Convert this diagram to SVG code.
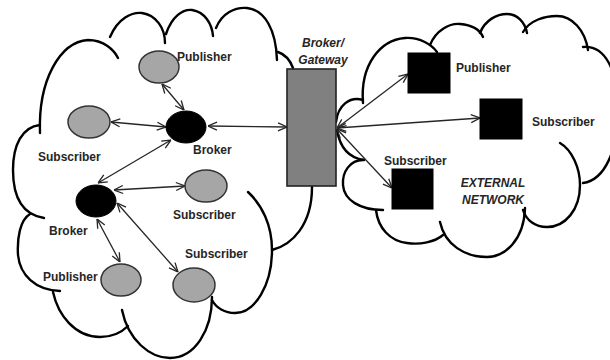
<svg xmlns="http://www.w3.org/2000/svg" width="610" height="360" viewBox="0 0 610 360">
  <style>
    .cloud { fill: none; stroke: #000; stroke-width: 2.4; stroke-linecap: round; }
    .gray { fill: #a6a6a6; stroke: #333; stroke-width: 1.5; }
    .black { fill: #000; stroke: #000; stroke-width: 1; }
    .gate { fill: #808080; stroke: #222; stroke-width: 1.6; }
    .lbl { font-family: "Liberation Sans", Arial, sans-serif; font-weight: bold; font-size: 12px; fill: #262626; }
    .it { font-style: italic; }
    .link { fill: none; stroke: #262626; stroke-width: 1.3; marker-start: url(#head); marker-end: url(#head); }
  </style>
  <defs>
    <marker id="head" viewBox="0 0 10 10" refX="10" refY="5" markerWidth="10" markerHeight="10" markerUnits="userSpaceOnUse" orient="auto-start-reverse">
      <path d="M1,1 L10,5 L1,9" fill="none" stroke="#262626" stroke-width="1.3"/>
    </marker>
  </defs>

  <rect width="610" height="360" fill="#fff"/>

  <!-- local network cloud -->
  <g id="local-cloud" class="cloud">
    <path d="M40,133 C38,80 60,42 88,40 C104,40 114,50 118,58"/>
    <path d="M110,37 C118,18 132,12 142,13 C156,15 165,28 165,43"/>
    <path d="M166,34 C172,16 183,9 192,10 C205,12 212,24 213,36"/>
    <path d="M216,28 C222,13 235,7 247,8 C265,10 276,30 277,60"/>
    <path d="M278,52 C284,54 290,60 293,68"/>
    <path d="M40,125 C22,127 13,145 13,170 C13,200 25,215 44,218"/>
    <path d="M30,214 C20,220 17,238 18,255 C20,275 35,290 60,291"/>
    <path d="M53,292 C58,315 75,337 100,337 C112,337 122,332 128,326"/>
    <path d="M122,310 C128,340 150,358 170,358 C195,358 212,330 212,297"/>
    <path d="M248,192 C262,205 272,225 272,250 C272,285 255,313 235,313 C225,313 216,308 212,300"/>
    <path d="M272,250 C292,245 312,225 312,187"/>
  </g>

  <!-- external network cloud -->
  <g id="external-cloud" class="cloud">
    <path d="M336,122 C338,105 350,96 363,100"/>
    <path d="M363,103 C360,65 380,40 405,38 C420,37 432,45 437,52"/>
    <path d="M430,45 C436,30 450,23 460,24 C472,25 480,30 483,37"/>
    <path d="M480,33 C485,20 497,14 507,14 C517,14 525,22 527,33"/>
    <path d="M523,32 C530,20 545,16 557,16 C572,16 585,30 588,50"/>
    <path d="M583,47 C605,45 618,70 618,110 C618,150 605,180 583,183"/>
    <path d="M560,143 C572,150 580,168 580,185 C580,210 565,227 547,227 C535,227 526,220 523,210"/>
    <path d="M525,208 C524,240 505,257 487,257 C465,257 445,245 440,222"/>
    <path d="M443,235 C435,242 420,245 407,243 C390,241 378,228 376,210"/>
    <path d="M363,160 C350,160 342,172 343,185 C344,200 360,210 383,210"/>
    <path d="M337,130 C340,148 350,158 364,160"/>
  </g>

  <!-- connectors -->
  <g id="connectors">
    <line class="link" x1="162" y1="84" x2="184" y2="110"/>
    <line class="link" x1="111" y1="122" x2="166" y2="127"/>
    <line class="link" x1="208" y1="126" x2="287" y2="127"/>
    <line class="link" x1="171" y1="140" x2="98" y2="183"/>
    <line class="link" x1="114" y1="190" x2="185" y2="186"/>
    <line class="link" x1="97" y1="219" x2="120" y2="262"/>
    <line class="link" x1="117" y1="203" x2="178" y2="272"/>
    <line class="link" x1="337" y1="128" x2="408" y2="74"/>
    <line class="link" x1="337" y1="128" x2="480" y2="118"/>
    <line class="link" x1="337" y1="129" x2="392" y2="188"/>
  </g>

  <!-- gateway -->
  <g id="gateway">
    <rect class="gate" x="287" y="69" width="49" height="117"/>
    <text class="lbl it" x="323" y="47" text-anchor="middle">Broker/</text>
    <text class="lbl it" x="323" y="64" text-anchor="middle">Gateway</text>
  </g>

  <!-- local network nodes -->
  <g id="publisher-top">
    <ellipse class="gray" cx="159" cy="67" rx="20" ry="16"/>
    <text class="lbl" x="177" y="61">Publisher</text>
  </g>
  <g id="subscriber-left">
    <ellipse class="gray" cx="89" cy="122" rx="21" ry="16"/>
    <text class="lbl" x="38" y="161">Subscriber</text>
  </g>
  <g id="broker-top">
    <ellipse class="black" cx="186" cy="127" rx="20" ry="16"/>
    <text class="lbl" x="193" y="154">Broker</text>
  </g>
  <g id="broker-bottom">
    <ellipse class="black" cx="96" cy="201" rx="20" ry="16"/>
    <text class="lbl" x="49" y="235">Broker</text>
  </g>
  <g id="subscriber-mid">
    <ellipse class="gray" cx="206" cy="186" rx="21" ry="16"/>
    <text class="lbl" x="173" y="219">Subscriber</text>
  </g>
  <g id="publisher-bottom">
    <ellipse class="gray" cx="121" cy="280" rx="20" ry="16"/>
    <text class="lbl" x="43" y="281">Publisher</text>
  </g>
  <g id="subscriber-bottom">
    <ellipse class="gray" cx="194" cy="285" rx="21" ry="17"/>
    <text class="lbl" x="185" y="258">Subscriber</text>
  </g>

  <!-- external network nodes -->
  <g id="ext-publisher">
    <rect class="black" x="408" y="53" width="42" height="40"/>
    <text class="lbl" x="456" y="72">Publisher</text>
  </g>
  <g id="ext-subscriber-right">
    <rect class="black" x="480" y="99" width="42" height="40"/>
    <text class="lbl" x="532" y="126">Subscriber</text>
  </g>
  <g id="ext-subscriber-bottom">
    <rect class="black" x="392" y="169" width="41" height="40"/>
    <text class="lbl" x="384" y="165">Subscriber</text>
  </g>
  <g id="external-label">
    <text class="lbl it" x="493" y="187" text-anchor="middle">EXTERNAL</text>
    <text class="lbl it" x="493" y="204" text-anchor="middle">NETWORK</text>
  </g>
</svg>
